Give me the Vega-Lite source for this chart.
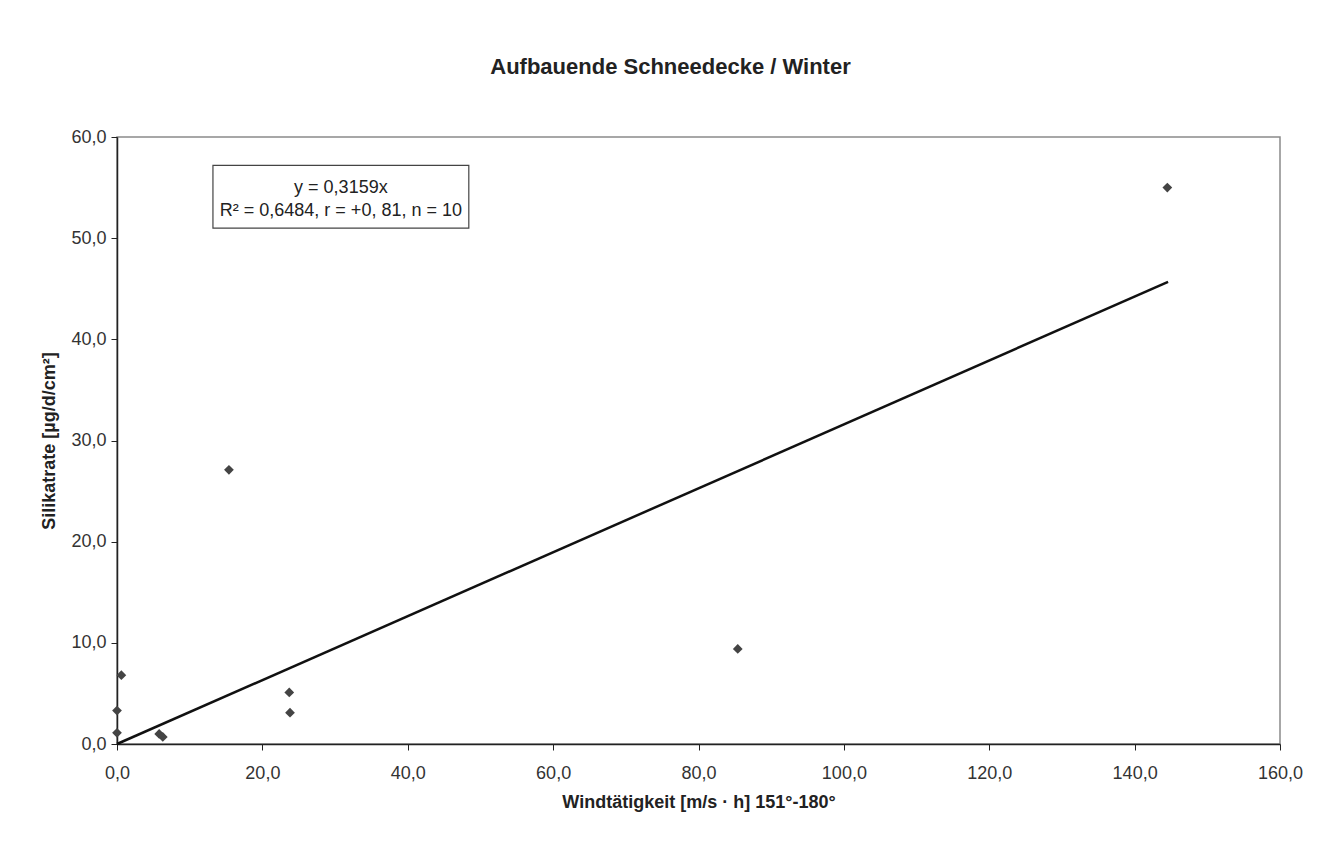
{
  "$schema": "https://vega.github.io/schema/vega-lite/v6.json",
  "autosize": "none",
  "width": 1163,
  "height": 607,
  "padding": {"left": 117, "top": 137, "right": 42, "bottom": 120},
  "background": "white",
  "config": {
    "font": "Liberation Sans",
    "locale": {"number": {"decimal": ",", "thousands": ".", "grouping": [3], "currency": ["", " €"]}},
    "view": {"stroke": "#8a8a8a", "strokeWidth": 1.5},
    "axis": {
      "grid": false,
      "domainColor": "#222",
      "domainWidth": 1.5,
      "tickColor": "#222",
      "tickSize": 6,
      "labelFont": "Liberation Sans",
      "labelFontSize": 18,
      "labelColor": "#333",
      "labelFlush": false,
      "labelOverlap": false,
      "titleFont": "Liberation Sans",
      "titleFontSize": 18,
      "titleFontWeight": "bold",
      "titleColor": "#222"
    }
  },
  "title": {
    "text": "Aufbauende Schneedecke / Winter",
    "font": "Liberation Sans",
    "fontSize": 22,
    "fontWeight": "bold",
    "color": "#222",
    "anchor": "middle",
    "dx": -28,
    "offset": 49
  },
  "layer": [
    {
      "data": {"values": [
        {"wind": 0.0, "silikat": 1.1},
        {"wind": 0.0, "silikat": 3.3},
        {"wind": 0.6, "silikat": 6.8},
        {"wind": 5.8, "silikat": 1.0},
        {"wind": 6.3, "silikat": 0.7},
        {"wind": 15.4, "silikat": 27.1},
        {"wind": 23.7, "silikat": 5.1},
        {"wind": 23.8, "silikat": 3.1},
        {"wind": 85.4, "silikat": 9.4},
        {"wind": 144.5, "silikat": 55.0}
      ]},
      "mark": {"type": "point", "shape": "diamond", "filled": true, "size": 95, "color": "#444", "opacity": 1},
      "encoding": {
        "x": {"field": "wind", "type": "quantitative",
              "scale": {"domain": [0, 160], "nice": false},
              "axis": {"values": [0, 20, 40, 60, 80, 100, 120, 140, 160], "format": ".1f", "labelPadding": 14, "title": "Windtätigkeit [m/s · h] 151°-180°", "titlePadding": 11}},
        "y": {"field": "silikat", "type": "quantitative",
              "scale": {"domain": [0, 60], "nice": false},
              "axis": {"values": [0, 10, 20, 30, 40, 50, 60], "format": ".1f", "labelPadding": 5, "title": "Silikatrate [µg/d/cm²]", "titlePadding": 12}}
      }
    },
    {
      "data": {"values": [
        {"wind": 0, "fit": 0},
        {"wind": 144.6, "fit": 45.68}
      ]},
      "mark": {"type": "line", "color": "#111", "strokeWidth": 2.5},
      "encoding": {
        "x": {"field": "wind", "type": "quantitative"},
        "y": {"field": "fit", "type": "quantitative"}
      }
    },
    {
      "data": {"values": [{"box": 1}]},
      "mark": {"type": "rect", "fill": "white", "stroke": "#444", "strokeWidth": 1.2},
      "encoding": {
        "x": {"datum": 13.2, "type": "quantitative"},
        "x2": {"datum": 48.4},
        "y": {"datum": 57.2, "type": "quantitative"},
        "y2": {"datum": 51.0}
      }
    },
    {
      "data": {"values": [
        {"label": "y = 0,3159x", "pos": 55.0},
        {"label": "R² = 0,6484, r = +0, 81, n = 10", "pos": 52.7}
      ]},
      "mark": {"type": "text", "font": "Liberation Sans", "fontSize": 18, "color": "#222", "align": "center", "baseline": "middle"},
      "encoding": {
        "x": {"datum": 30.8, "type": "quantitative"},
        "y": {"field": "pos", "type": "quantitative"},
        "text": {"field": "label"}
      }
    }
  ]
}
